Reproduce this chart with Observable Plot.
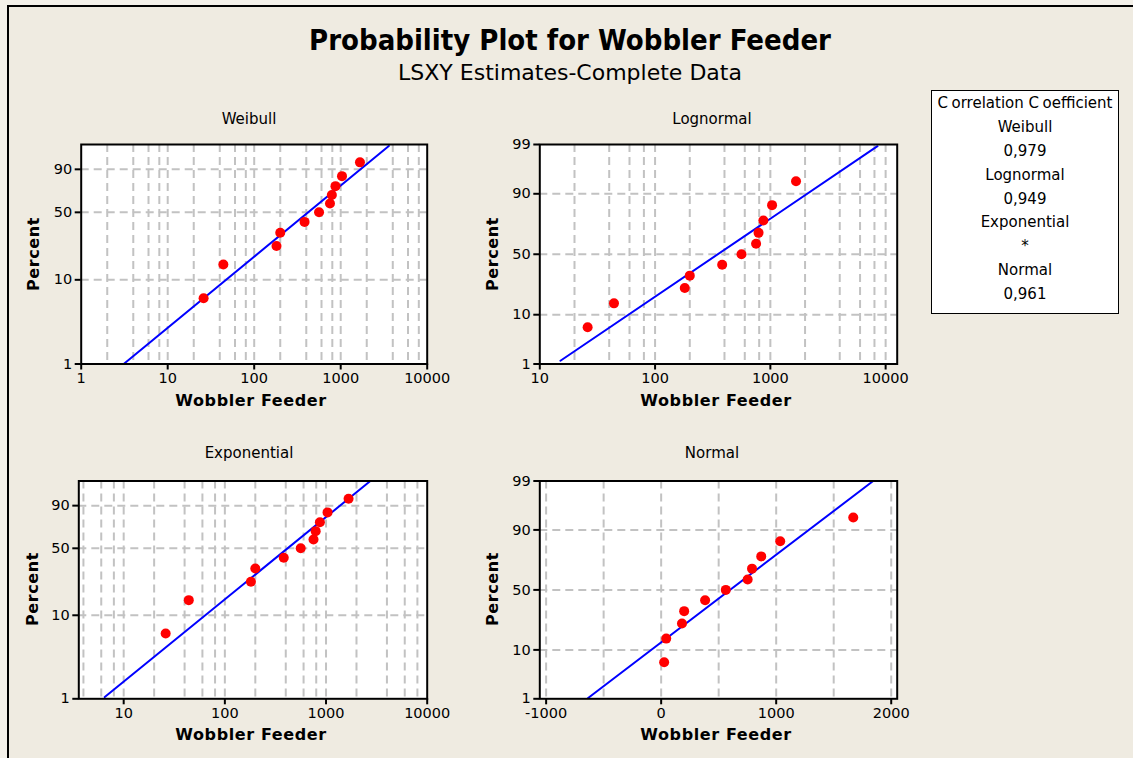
<!DOCTYPE html>
<html>
<head>
<meta charset="utf-8">
<script src="https://cdn.jsdelivr.net/npm/d3@7"></script>
<script src="https://cdn.jsdelivr.net/npm/@observablehq/plot@0.6"></script>
<style>
  html, body { margin: 0; padding: 0; background: #f4f1ea; }
  #root { position: relative; width: 1133px; height: 758px; overflow: hidden; background: #f4f1ea; font-family: "DejaVu Sans", Verdana, sans-serif; color: #000; }
  #sheet { position: absolute; left: 7px; top: 5px; width: 1140px; height: 770px; background: #efebe1; border-left: 2px solid #000; border-top: 2px solid #000; }
  .abs { position: absolute; white-space: nowrap; line-height: normal; }
  .title { font-weight: bold; font-size: 29px; transform: translateX(-50%); font-family: "DejaVu Sans Condensed", "DejaVu Sans", sans-serif; }
  .subtitle { font-size: 22px; transform: translateX(-50%); }
  .ptitle { font-size: 15px; transform: translateX(-50%); }
  .xlab { font-weight: bold; font-size: 16px; letter-spacing: 0.6px; transform: translateX(-50%); }
  .ylab { font-weight: bold; font-size: 16px; letter-spacing: 0.6px; transform: translate(-50%, -50%) rotate(-90deg); }
  .panel { position: absolute; }
  #corr { position: absolute; left: 931px; top: 90px; width: 186px; height: 221px; background: #fff; border: 1.5px solid #000; font-size: 15px; text-align: center; }
  #corr div { height: 23.9px; line-height: 23.9px; white-space: nowrap; }
  #corr .cgap { padding-right: 3.5px; }
</style>
</head>
<body>
<div id="root">
  <div id="sheet"></div>
  <div class="abs title" style="left:570px; top:23px;">Probability Plot for Wobbler Feeder</div>
  <div class="abs subtitle" style="left:570px; top:59.5px;">LSXY Estimates-Complete Data</div>

  <div class="abs ptitle" style="left:249px; top:109.5px;">Weibull</div>
  <div class="abs ptitle" style="left:712px; top:109.5px;">Lognormal</div>
  <div class="abs ptitle" style="left:249px; top:443.5px;">Exponential</div>
  <div class="abs ptitle" style="left:712px; top:443.5px;">Normal</div>

  <div class="panel" id="pW" style="left:10px; top:130px;"></div>
  <div class="panel" id="pL" style="left:470px; top:130px;"></div>
  <div class="panel" id="pE" style="left:10px; top:465px;"></div>
  <div class="panel" id="pN" style="left:470px; top:465px;"></div>

  <div class="abs xlab" style="left:251px; top:391px;">Wobbler Feeder</div>
  <div class="abs xlab" style="left:716px; top:391px;">Wobbler Feeder</div>
  <div class="abs xlab" style="left:251px; top:725px;">Wobbler Feeder</div>
  <div class="abs xlab" style="left:716px; top:725px;">Wobbler Feeder</div>

  <div class="abs ylab" style="left:33px; top:254px;">Percent</div>
  <div class="abs ylab" style="left:492px; top:254px;">Percent</div>
  <div class="abs ylab" style="left:32px; top:589px;">Percent</div>
  <div class="abs ylab" style="left:492px; top:589px;">Percent</div>

  <div id="corr"></div>
</div>
<script>
// ---------- data ----------
const feederValues = [26, 44, 181, 200, 382, 562, 752, 790, 870, 1035, 1670];
const plotPercents = [6.1, 14.9, 23.7, 32.5, 41.2, 50, 58.8, 67.5, 76.3, 85.1, 93.9];

// fitted-line end points (value, percent) per distribution
const fitWeibullX = [3.1, 3600];      const fitWeibullP = [1, 98.8];
const fitLognormalX = [15.1, 8500];   const fitLognormalP = [1.2, 98.9];
const fitExponentialX = [6.5, 2740];  const fitExponentialP = [1.05, 99];
const fitNormalX = [-635, 1843];      const fitNormalP = [1.05, 99];

// tick labels
const xTicksWeibull = [1, 10, 100, 1000, 10000];
const xTicksLognormal = [10, 100, 1000, 10000];
const xTicksExponential = [10, 100, 1000, 10000];
const xTicksNormal = [-1000, 0, 1000, 2000];
const yTicksWeibull = [1, 10, 50, 90];
const yTicksNormal = [1, 10, 50, 90, 99];
const yGridPercents = [10, 50, 90];
const logGridMultipliers = [2, 4, 6, 8, 10];
const normalGrid = [-1000, -500, 0, 500, 1000, 1500, 2000];

const corrLabels = ["Correlation Coefficient", "Weibull", "0,979", "Lognormal", "0,949", "Exponential", "*", "Normal", "0,961"];

// ---------- probability-scale transforms ----------
function weib(p) { return Math.log(-Math.log(1 - p / 100)); }
function probit(pp) {
  const p = pp / 100;
  const a = [-3.969683028665376e+01, 2.209460984245205e+02, -2.759285104469687e+02, 1.383577518672690e+02, -3.066479806614716e+01, 2.506628277459239e+00];
  const b = [-5.447609879822406e+01, 1.615858368580409e+02, -1.556989798598866e+02, 6.680131188771972e+01, -1.328068155288572e+01];
  const c = [-7.784894002430293e-03, -3.223964580411365e-01, -2.400758277161838e+00, -2.549732539343734e+00, 4.374664141464968e+00, 2.938163982698783e+00];
  const d = [7.784695709041462e-03, 3.224671290700398e-01, 2.445134137142996e+00, 3.754408661907416e+00];
  const pl = 0.02425;
  let q, r;
  if (p < pl) { q = Math.sqrt(-2 * Math.log(p)); return (((((c[0]*q+c[1])*q+c[2])*q+c[3])*q+c[4])*q+c[5]) / ((((d[0]*q+d[1])*q+d[2])*q+d[3])*q+1); }
  if (p > 1 - pl) { q = Math.sqrt(-2 * Math.log(1 - p)); return -(((((c[0]*q+c[1])*q+c[2])*q+c[3])*q+c[4])*q+c[5]) / ((((d[0]*q+d[1])*q+d[2])*q+d[3])*q+1); }
  q = p - 0.5; r = q * q;
  return (((((a[0]*r+a[1])*r+a[2])*r+a[3])*r+a[4])*r+a[5])*q / (((((b[0]*r+b[1])*r+b[2])*r+b[3])*r+b[4])*r+1);
}

function logGrid(lo, hi) {
  const out = [];
  for (let e = -1; e <= 5; e++) for (const m of logGridMultipliers) {
    const v = m * Math.pow(10, e);
    if (v >= lo * 1.0001 && v <= hi * 0.9999) out.push(v);
  }
  return out;
}

const gridStyle = { stroke: "#c2c2c2", strokeWidth: 2, strokeDasharray: "8,5" };

function panel(sel, o) {
  const yT = o.yT;
  const labels = new Map(o.yTicks.map(p => [yT(p).toFixed(6), String(p)]));
  const pts = feederValues.map((v, i) => ({ v, y: yT(plotPercents[i]) }));
  const fit = o.fitX.map((x, i) => ({ x, y: yT(o.fitP[i]) }));
  const chart = Plot.plot({
    width: 440, height: o.height,
    marginLeft: o.mL, marginRight: o.mR, marginTop: o.mT, marginBottom: o.mB,
    style: { background: "transparent", fontFamily: "'DejaVu Sans', Verdana, sans-serif", fontSize: "14.5px", color: "#000", overflow: "visible" },
    x: { type: o.xType, domain: o.xDomain, label: null },
    y: { type: "linear", domain: [yT(1), yT(99)], label: null },
    marks: [
      Plot.frame({ fill: "#fff", stroke: null }),
      Plot.ruleX(o.xGrid, gridStyle),
      Plot.ruleY(yGridPercents.map(yT), gridStyle),
      Plot.line(fit, { x: "x", y: "y", stroke: "#0000ff", strokeWidth: 2 }),
      Plot.dot(pts, { x: "v", y: "y", r: 5, fill: "#ff0000", stroke: null }),
      Plot.frame({ stroke: "#000", strokeWidth: 2 }),
      Plot.axisX({ ticks: o.xTicks, tickFormat: d => String(d), tickSize: 6, tickPadding: 3, strokeWidth: 2, label: null }),
      Plot.axisY({ ticks: o.yTicks.map(yT), tickFormat: d => labels.get(d.toFixed(6)), tickSize: 6, tickPadding: 3, strokeWidth: 2, label: null })
    ]
  });
  document.querySelector(sel).appendChild(chart);
}

panel("#pW", { height: 290, mL: 70.7, mR: 23.3, mT: 14, mB: 56.5, yT: weib,
  xType: "log", xDomain: [1, 10000], xTicks: xTicksWeibull, xGrid: logGrid(1, 10000),
  yTicks: yTicksWeibull, fitX: fitWeibullX, fitP: fitWeibullP });
panel("#pL", { height: 290, mL: 69.3, mR: 13.3, mT: 14, mB: 56.5, yT: probit,
  xType: "log", xDomain: [10, 12600], xTicks: xTicksLognormal, xGrid: logGrid(10, 12600),
  yTicks: yTicksNormal, fitX: fitLognormalX, fitP: fitLognormalP });
panel("#pE", { height: 290, mL: 68.3, mR: 23.3, mT: 15.5, mB: 56.7, yT: weib,
  xType: "log", xDomain: [3.6, 10000], xTicks: xTicksExponential, xGrid: logGrid(3.6, 10000),
  yTicks: yTicksWeibull, fitX: fitExponentialX, fitP: fitExponentialP });
panel("#pN", { height: 290, mL: 69.3, mR: 13.3, mT: 15.5, mB: 56.7, yT: probit,
  xType: "linear", xDomain: [-1055, 2052], xTicks: xTicksNormal, xGrid: normalGrid,
  yTicks: yTicksNormal, fitX: fitNormalX, fitP: fitNormalP });

// correlation box (Minitab leaves a small gap after each capital C)
const corr = document.getElementById("corr");
corr.style.paddingTop = "1px";
for (const t of corrLabels) {
  const d = document.createElement("div");
  t.split(/(C)/).forEach(part => {
    if (part === "C") { const s = document.createElement("span"); s.className = "cgap"; s.textContent = "C"; d.appendChild(s); }
    else if (part) d.appendChild(document.createTextNode(part));
  });
  corr.appendChild(d);
}
</script>
</body>
</html>
